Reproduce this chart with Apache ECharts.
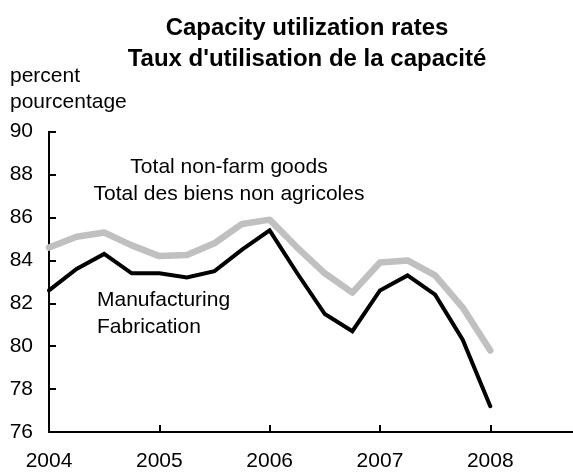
<!DOCTYPE html>
<html>
<head>
<meta charset="utf-8">
<script src="https://cdn.jsdelivr.net/npm/echarts@6/dist/echarts.min.js"></script>
<style>
html,body{margin:0;padding:0;background:#fff;}
#chart{width:573px;height:472px;}
</style>
</head>
<body>
<div id="chart"></div>
<script>
// Quarterly categories 2004 Q1 .. 2008 Q4 (axis extends past the last data point)
const years = ['2004', '2005', '2006', '2007', '2008'];
const quarterNames = ['Q1', 'Q2', 'Q3', 'Q4'];
const quarters = [];
years.forEach(y => quarterNames.forEach(q => quarters.push(y + ' ' + q)));

const manufacturing = [82.6, 83.6, 84.3, 83.4, 83.4, 83.2, 83.5, 84.5, 85.4, 83.4, 81.5, 80.7, 82.6, 83.3, 82.4, 80.3, 77.2];
const totalNonFarm = [84.6, 85.1, 85.3, 84.7, 84.2, 84.25, 84.8, 85.7, 85.9, 84.6, 83.4, 82.5, 83.9, 84.0, 83.3, 81.8, 79.8];

const yMin = 76, yMax = 90, yStep = 2;
const titleLines = ['Capacity utilization rates', "Taux d'utilisation de la capacité"];
const unitLines = ['percent', 'pourcentage'];
const totalLabel = ['Total non-farm goods', 'Total des biens non agricoles'];
const manufLabel = ['Manufacturing', 'Fabrication'];

const FONT = "'Liberation Sans', Arial, sans-serif";
const chart = echarts.init(document.getElementById('chart'), null, {renderer: 'canvas'});

function txt(text, x, y, align) {
  return {
    type: 'text', x: x, y: y, silent: true,
    style: {text: text, font: '21px ' + FONT, fill: '#000', textAlign: align, textVerticalAlign: 'middle'}
  };
}

chart.setOption({
  animation: false,
  backgroundColor: '#ffffff',
  title: {
    text: titleLines.join('\n'),
    left: 302,
    top: 8,
    textAlign: 'center',
    textStyle: {fontFamily: FONT, fontSize: 24, fontWeight: 'bold', color: '#000', lineHeight: 31}
  },
  grid: {left: 49, top: 131.7, width: 526, height: 300.6, containLabel: false},
  xAxis: {
    type: 'category',
    data: quarters,
    boundaryGap: false,
    axisLine: {lineStyle: {color: '#000', width: 2}},
    axisTick: {inside: true, length: 7, interval: 3, lineStyle: {color: '#000', width: 2}},
    axisLabel: {
      interval: 3, margin: 19, color: '#000', fontFamily: FONT, fontSize: 21,
      formatter: v => v.slice(0, 4)
    },
    splitLine: {show: false}
  },
  yAxis: {
    type: 'value',
    min: yMin, max: yMax, interval: yStep,
    axisLine: {show: true, lineStyle: {color: '#000', width: 2}},
    axisTick: {show: true, inside: true, length: 7, lineStyle: {color: '#000', width: 2}},
    axisLabel: {margin: 16, color: '#000', fontFamily: FONT, fontSize: 21},
    splitLine: {show: false}
  },
  graphic: [
    txt(unitLines[0], 10, 76, 'left'),
    txt(unitLines[1], 10, 102, 'left'),
    txt(totalLabel[0], 229, 167, 'center'),
    txt(totalLabel[1], 229, 194, 'center'),
    txt(manufLabel[0], 97, 300, 'left'),
    txt(manufLabel[1], 97, 327, 'left')
  ],
  series: [
    {
      name: totalLabel[0], type: 'line', data: totalNonFarm, showSymbol: false, symbol: 'none',
      lineStyle: {color: '#c0c0c0', width: 6.5, cap: 'round', join: 'round'}, z: 2
    },
    {
      name: manufLabel[0], type: 'line', data: manufacturing, showSymbol: false, symbol: 'none',
      lineStyle: {color: '#000000', width: 4, cap: 'round', join: 'miter'}, z: 3
    }
  ]
});
</script>
</body>
</html>
